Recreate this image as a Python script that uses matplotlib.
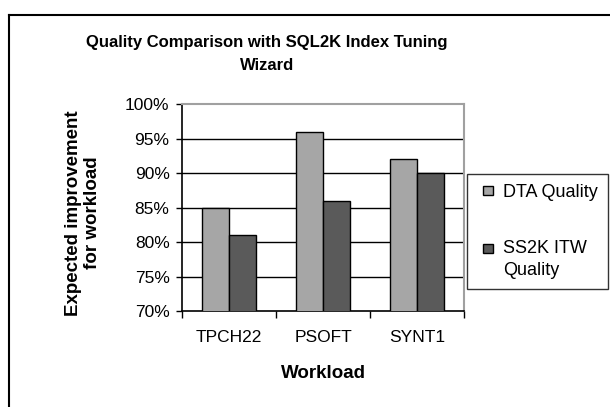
import numpy as np
import matplotlib
matplotlib.use("Agg")
import matplotlib.pyplot as plt
from matplotlib.lines import Line2D
from matplotlib.patches import Rectangle
from matplotlib.legend_handler import HandlerPatch
from matplotlib.ticker import FuncFormatter

plt.rcParams['font.family'] = ['Liberation Sans', 'DejaVu Sans']

workloads = ["TPCH22", "PSOFT", "SYNT1"]
dta_quality = [85, 96, 92]
itw_quality = [81, 86, 90]
series_names = ["DTA Quality", "SS2K ITW\nQuality"]
yticks = [70, 75, 80, 85, 90, 95, 100]

W, H = 610, 407
fig = plt.figure(figsize=(6.1, 4.07), dpi=100)
ax = fig.add_axes([182 / W, 1 - 311 / H, (464 - 182) / W, (311 - 104) / H])

x = np.arange(len(workloads))
bw = 0.29
b1 = ax.bar(x - bw / 2, dta_quality, bw, bottom=0, color="#a6a6a6",
            edgecolor="black", linewidth=1.0, zorder=3)
b2 = ax.bar(x + bw / 2, itw_quality, bw, bottom=0, color="#5a5a5a",
            edgecolor="black", linewidth=1.0, zorder=3)

ax.set_xlim(-0.5, 2.5)
ax.set_ylim(70, 100)
ax.set_yticks(yticks)
ax.yaxis.set_major_formatter(FuncFormatter(lambda v, p: f"{v:.0f}%"))
ax.tick_params(axis="y", direction="out", length=4, width=1, labelsize=12.5, pad=5)
ax.set_xticks(x)
ax.set_xticklabels(workloads, fontsize=12.5)
ax.set_xticks([-0.5, 0.5, 1.5, 2.5], minor=True)
ax.tick_params(axis="x", which="major", length=0, pad=14)
ax.tick_params(axis="x", which="minor", direction="out", length=5, width=1)

for v in yticks[1:-1]:
    ax.axhline(v, color="black", linewidth=1.0, zorder=1)

ax.spines["left"].set_linewidth(1.2)
ax.spines["bottom"].set_linewidth(1.2)
ax.spines["top"].set_color("#a0a0a0")
ax.spines["right"].set_color("#a0a0a0")
ax.spines["top"].set_linewidth(1.5)
ax.spines["right"].set_linewidth(1.5)

fig.text(267 / W, 1 - 42 / H, "Quality Comparison with SQL2K Index Tuning",
         ha="center", va="center", fontsize=12, fontweight="bold")
fig.text(267 / W, 1 - 65 / H, "Wizard",
         ha="center", va="center", fontsize=12, fontweight="bold")
fig.text(83 / W, 1 - 213 / H, "Expected improvement\nfor workload",
         ha="center", va="center", rotation=90, fontsize=13.5,
         fontweight="bold", linespacing=1.15)
fig.text(323 / W, 1 - 373 / H, "Workload", ha="center", va="center",
         fontsize=13.5, fontweight="bold")


# small square legend keys at the right end of the handle box,
# lifted to the first text line for the two-line label
def square_key(lift):
    def f(legend, orig_handle, xdescent, ydescent, width, height, fontsize):
        return Rectangle((width - height - xdescent, -ydescent + lift),
                         height, height)
    return f


h1, h2 = b1.patches[0], b2.patches[0]
leg = fig.legend([h1, h2], series_names, loc="upper left",
                 bbox_to_anchor=(467 / W, 1 - 174 / H), frameon=True,
                 fancybox=False, edgecolor="black", fontsize=13,
                 handlelength=0.89, handleheight=0.44, handletextpad=0.55,
                 labelspacing=2.15, borderpad=0.55, borderaxespad=0,
                 handler_map={h1: HandlerPatch(patch_func=square_key(0)),
                              h2: HandlerPatch(patch_func=square_key(8))})
leg.get_frame().set_linewidth(1.0)
leg.get_texts()[1].set_linespacing(1.42)

# outer chart border (cropped at right and bottom)
fig.add_artist(Line2D([9 / W, 9 / W], [0, 1 - 14.5 / H], color="black",
                      linewidth=1.5, transform=fig.transFigure))
fig.add_artist(Line2D([9 / W, 1], [1 - 14.5 / H, 1 - 14.5 / H], color="black",
                      linewidth=1.5, transform=fig.transFigure))

fig.savefig("out.png", dpi=100)
